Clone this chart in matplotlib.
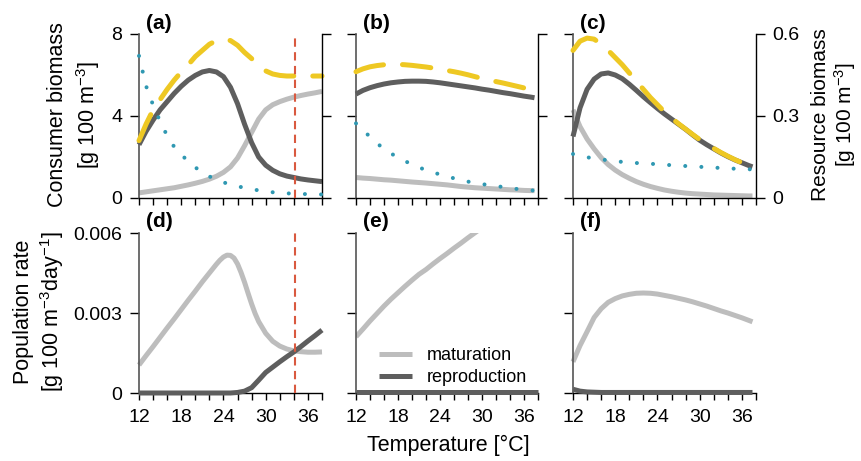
import matplotlib
matplotlib.use('Agg')
import matplotlib.pyplot as plt
from matplotlib.lines import Line2D

plt.rcParams['font.family'] = ['Liberation Sans', 'DejaVu Sans']
plt.rcParams['mathtext.fontset'] = 'custom'
plt.rcParams['mathtext.rm'] = 'Liberation Sans'
plt.rcParams['mathtext.it'] = 'Liberation Sans:italic'
plt.rcParams['mathtext.bf'] = 'Liberation Sans:bold'
plt.rcParams['font.size'] = 14

# ---------------- data ----------------
T_a = [12, 13, 14, 15, 16, 17, 18, 19, 20, 21, 22, 23, 24, 25, 26, 27, 28, 29, 30,
       31, 32, 33, 34, 35, 36, 37, 38]
T_bc = [12, 13, 14, 15, 16, 17, 18, 19, 20, 21, 22, 23, 24, 25, 26, 27, 28, 29, 30,
        31, 32, 33, 34, 35, 36, 37, 37.5]

# panel (a): consumer biomass (juvenile, adult, total) and resource biomass
juv_a = [0.25, 0.3, 0.35, 0.4, 0.45, 0.5, 0.57, 0.64, 0.72, 0.81, 0.92, 1.06, 1.25, 1.52,
         1.95, 2.55, 3.2, 3.85, 4.3, 4.55, 4.7, 4.82, 4.92, 5.0, 5.07, 5.13, 5.2]
adu_a = [2.6, 3.25, 3.8, 4.3, 4.7, 5.1, 5.45, 5.75, 5.98, 6.15, 6.22, 6.15, 5.92, 5.4,
         4.6, 3.6, 2.7, 2.0, 1.6, 1.35, 1.18, 1.07, 1.0, 0.93, 0.88, 0.84, 0.8]
tot_a = [2.8, 3.6, 4.3, 4.8, 5.3, 5.75, 6.15, 6.5, 6.9, 7.2, 7.5, 7.68, 7.75, 7.68,
         7.45, 7.1, 6.8, 6.45, 6.2, 6.05, 5.98, 5.95, 5.95, 5.95, 5.95, 5.95, 5.95]
res_a = [0.52, 0.41, 0.34, 0.28, 0.228, 0.187, 0.158, 0.135, 0.112, 0.094, 0.079, 0.067,
         0.057, 0.05, 0.043, 0.037, 0.032, 0.028, 0.024, 0.021, 0.019, 0.017, 0.016,
         0.015, 0.014, 0.013, 0.013]

# panel (b)
juv_b = [1.0, 0.97, 0.95, 0.92, 0.89, 0.87, 0.84, 0.81, 0.78, 0.755, 0.73, 0.7, 0.67,
         0.64, 0.6, 0.56, 0.53, 0.5, 0.48, 0.46, 0.44, 0.42, 0.4, 0.39, 0.37, 0.36, 0.36]
adu_b = [5.07, 5.25, 5.38, 5.48, 5.56, 5.62, 5.66, 5.69, 5.7, 5.7, 5.69, 5.66, 5.62,
         5.57, 5.52, 5.47, 5.42, 5.37, 5.31, 5.26, 5.2, 5.14, 5.09, 5.03, 4.97, 4.92, 4.89]
tot_b = [6.16, 6.3, 6.4, 6.46, 6.5, 6.52, 6.52, 6.5, 6.47, 6.43, 6.39, 6.34, 6.28, 6.22,
         6.16, 6.09, 6.01, 5.92, 5.83, 5.75, 5.68, 5.61, 5.53, 5.45, 5.37, 5.28, 5.24]
res_b = [0.273, 0.248, 0.224, 0.2, 0.18, 0.163, 0.148, 0.135, 0.123, 0.112, 0.102,
         0.094, 0.086, 0.079, 0.072, 0.066, 0.06, 0.055, 0.051, 0.047, 0.044, 0.04,
         0.036, 0.033, 0.03, 0.028, 0.027]

# panel (c)
juv_c = [4.3, 3.48, 2.88, 2.4, 1.97, 1.63, 1.36, 1.14, 0.96, 0.8, 0.67, 0.56, 0.47, 0.39,
         0.33, 0.28, 0.24, 0.21, 0.19, 0.17, 0.15, 0.14, 0.13, 0.12, 0.11, 0.1, 0.1]
adu_c = [3.0, 4.4, 5.3, 5.8, 6.05, 6.1, 6.0, 5.82, 5.55, 5.25, 4.94, 4.65, 4.37, 4.1,
         3.85, 3.6, 3.35, 3.08, 2.82, 2.6, 2.4, 2.2, 2.02, 1.86, 1.72, 1.58, 1.52]
tot_c = [7.2, 7.65, 7.8, 7.75, 7.5, 7.2, 6.85, 6.5, 6.1, 5.7, 5.3, 4.9, 4.55, 4.2,
         3.9, 3.62, 3.36, 3.1, 2.85, 2.63, 2.42, 2.22, 2.04, 1.87, 1.72, 1.58, 1.52]
res_c = [0.161, 0.155, 0.149, 0.145, 0.141, 0.138, 0.135, 0.132, 0.13, 0.128, 0.127,
         0.125, 0.124, 0.122, 0.12, 0.119, 0.117, 0.116, 0.114, 0.113, 0.111, 0.11,
         0.109, 0.107, 0.106, 0.105, 0.105]

# panel (d)-(f): population rates
T_d_mat = [12, 13, 14, 15, 16, 17, 18, 19, 20, 21, 22, 23, 23.5, 24, 24.5, 25, 25.5,
           26, 26.5, 27, 27.5, 28, 28.5, 29, 30, 31, 32, 33, 34, 35, 36, 37, 38]
mat_d = [0.00105, 0.0014, 0.00174, 0.00209, 0.00244, 0.00278, 0.00313, 0.00348,
         0.00382, 0.00417, 0.0045, 0.00483, 0.00498, 0.0051, 0.00517, 0.00516, 0.00506,
         0.00484, 0.00452, 0.00415, 0.00374, 0.00334, 0.00298, 0.00268, 0.00224,
         0.00194, 0.00176, 0.00165, 0.00158, 0.00155, 0.00153, 0.00153, 0.00154]
rep_d = [0, 0, 0, 0, 0, 0, 0, 0, 0, 0, 0, 0, 0, 0, 0.00002, 0.00007, 0.0002, 0.00048,
         0.00077, 0.00097, 0.00117, 0.00136, 0.00154, 0.00174, 0.00195, 0.00215, 0.00236]
T_e = [12, 13, 14, 15, 16, 17, 18, 19, 20, 21, 22, 23, 24, 25, 26, 27, 28, 29, 30]
mat_e = [0.00211, 0.0024, 0.0027, 0.00298, 0.00326, 0.00352, 0.00376, 0.004, 0.00423,
         0.00445, 0.00463, 0.00484, 0.00504, 0.00523, 0.00543, 0.00562, 0.00582,
         0.00601, 0.0062]
rep_e = [0.00003] * 27
mat_f = [0.00117, 0.00178, 0.0023, 0.00283, 0.00316, 0.0034, 0.00354, 0.00364, 0.0037,
         0.00374, 0.00375, 0.00374, 0.00371, 0.00366, 0.00361, 0.00355, 0.00349,
         0.00342, 0.00334, 0.00326, 0.00317, 0.00308, 0.003, 0.00291, 0.00282,
         0.00272, 0.00267]
rep_f = [0.00014, 0.00007, 0.00004, 0.00003, 0.00002, 0.00002, 0.00002, 0.00002,
         0.00002, 0.00002, 0.00002, 0.00002, 0.00002, 0.00002, 0.00002, 0.00002,
         0.00002, 0.00002, 0.00002, 0.00002, 0.00002, 0.00002, 0.00002, 0.00002,
         0.00002, 0.00002, 0.00002]

T_crit = 34.2

x_ticks = [12, 14, 16, 18, 20, 22, 24, 26, 28, 30, 32, 34, 36, 38]
x_ticklabels = ['12', '', '', '18', '', '', '24', '', '', '30', '', '', '36', '']
cons_ticks = [0, 4, 8]
cons_ticklabels = ['0', '4', '8']
res_ticks = [0, 0.3, 0.6]
res_ticklabels = ['0', '0.3', '0.6']
rate_ticks = [0, 0.003, 0.006]
rate_ticklabels = ['0', '0.003', '0.006']
panel_labels = ['(a)', '(b)', '(c)', '(d)', '(e)', '(f)']
legend_labels = ['maturation', 'reproduction']

# ---------------- style ----------------
LIGHT = '#bdbdbd'
DARK = '#5e5e5e'
YELLOW = '#eec823'
BLUE = '#2f98b2'
RED = '#d9593f'
SPINE_GRAY = '#555555'
LW = 3.6
TICK_FS = 14
TITLE_FS = 15.5
PANEL_FS = 15

W, H = 861, 461
fig = plt.figure(figsize=(W / 100, H / 100), dpi=100)


def rect(x0, x1, ytop, ybot):
    return [x0 / W, 1 - ybot / H, (x1 - x0) / W, (ybot - ytop) / H]


cols = [(139, 322), (356, 538), (573, 756)]
top_y = (34, 198)
bot_y = (233, 393)


def base_style(ax, show_xlabels, show_ylabels):
    ax.set_xlim(12, 38)
    ax.set_xticks(x_ticks)
    ax.set_xticklabels(x_ticklabels if show_xlabels else [''] * len(x_ticks))
    ax.spines['top'].set_visible(False)
    ax.spines['right'].set_visible(False)
    ax.spines['left'].set_color(SPINE_GRAY)
    ax.spines['left'].set_linewidth(1.2)
    ax.spines['bottom'].set_linewidth(1.0)
    ax.tick_params(axis='x', direction='out', length=5, width=1.0, pad=6.5,
                   labelsize=TICK_FS, labelbottom=show_xlabels)
    ax.tick_params(axis='y', direction='out', length=6.5, width=1.0, pad=5.5,
                   labelsize=TICK_FS, labelleft=show_ylabels)
    ax.patch.set_alpha(0)


top_data = [
    (T_a, juv_a, adu_a, tot_a, res_a),
    (T_bc, juv_b, adu_b, tot_b, res_b),
    (T_bc, juv_c, adu_c, tot_c, res_c),
]
bot_data = [
    (T_d_mat, mat_d, T_a, rep_d),
    (T_e, mat_e, T_a, rep_e),
    (T_bc, mat_f, T_bc, rep_f),
]

for i, ((x0, x1), (T, juv, adu, tot, res)) in enumerate(zip(cols, top_data)):
    ax = fig.add_axes(rect(x0, x1, *top_y))
    base_style(ax, False, i == 0)
    ax.set_ylim(0, 8)
    ax.set_yticks(cons_ticks)
    ax.set_yticklabels(cons_ticklabels)
    ax.plot(T, juv, color=LIGHT, lw=LW, solid_capstyle='butt', clip_on=False, zorder=2)
    ax.plot(T, adu, color=DARK, lw=LW, solid_capstyle='butt', clip_on=False, zorder=3)
    ax.plot(T, tot, color=YELLOW, lw=LW, linestyle=(0, (5.7, 3.8)),
            dash_capstyle='round', clip_on=False, zorder=4)
    ax2 = ax.twinx()
    ax2.set_xlim(12, 38)
    ax2.set_ylim(0, 0.6)
    ax2.set_yticks(res_ticks)
    ax2.set_yticklabels(res_ticklabels)
    for s in ['top', 'left', 'bottom']:
        ax2.spines[s].set_visible(False)
    ax2.spines['right'].set_color('black')
    ax2.spines['right'].set_linewidth(1.0)
    ax2.tick_params(axis='y', direction='out', length=6.5, width=1.0, pad=5.5,
                    labelsize=TICK_FS, labelright=(i == 2))
    ax2.plot(T, res, color=BLUE, lw=2.9, linestyle=(0, (0.01, 4.0)),
             dash_capstyle='round', clip_on=False, zorder=5)
    if i == 0:
        ax2.axvline(T_crit, color=RED, lw=1.5, linestyle=(0, (4, 2.6)), zorder=6)
    ax.text(0.04, 1.067, panel_labels[i], transform=ax.transAxes, fontsize=PANEL_FS,
            fontweight='bold', ha='left', va='center')

for i, ((x0, x1), (Tm, mat, Tr, rep)) in enumerate(zip(cols, bot_data)):
    ax = fig.add_axes(rect(x0, x1, *bot_y))
    base_style(ax, True, i == 0)
    ax.set_ylim(0, 0.006)
    ax.set_yticks(rate_ticks)
    ax.set_yticklabels(rate_ticklabels)
    ax.plot(Tm, mat, color=LIGHT, lw=LW, solid_capstyle='butt', clip_on=(i == 1), zorder=2)
    ax.plot(Tr, rep, color=DARK, lw=LW, solid_capstyle='butt', clip_on=False, zorder=3)
    if i == 0:
        ax.axvline(T_crit, color=RED, lw=1.5, linestyle=(0, (4, 2.6)), zorder=6)
    if i == 1:
        handles = [Line2D([], [], color=LIGHT, lw=LW, solid_capstyle='butt'),
                   Line2D([], [], color=DARK, lw=LW, solid_capstyle='butt')]
        ax.legend(handles, legend_labels, loc='center left',
                  bbox_to_anchor=(0.126, 0.165), frameon=False, borderpad=0,
                  borderaxespad=0, handlelength=1.85, handletextpad=0.8,
                  labelspacing=0.3, fontsize=13)
    ax.text(0.04, 1.069, panel_labels[3 + i], transform=ax.transAxes, fontsize=PANEL_FS,
            fontweight='bold', ha='left', va='center')

# axis titles
fig.text(58 / W, 1 - 115 / H, 'Consumer biomass', rotation=90, ha='center',
         va='center', fontsize=TITLE_FS)
fig.text(88 / W, 1 - 115 / H, '[g 100 m$^{-3}$]', rotation=90, ha='center',
         va='center', fontsize=TITLE_FS)
fig.text(24 / W, 1 - 312 / H, 'Population rate', rotation=90, ha='center',
         va='center', fontsize=TITLE_FS)
fig.text(52 / W, 1 - 312 / H, '[g 100 m$^{-3}$day$^{-1}$]', rotation=90, ha='center',
         va='center', fontsize=TITLE_FS)
fig.text(821 / W, 1 - 115 / H, 'Resource biomass', rotation=90, ha='center',
         va='center', fontsize=15)
fig.text(845 / W, 1 - 115 / H, '[g 100 m$^{-3}$]', rotation=90, ha='center',
         va='center', fontsize=15)
fig.text(448 / W, 1 - 445 / H, 'Temperature [°C]', ha='center', va='center',
         fontsize=TITLE_FS)

fig.savefig('out.png', dpi=100)
